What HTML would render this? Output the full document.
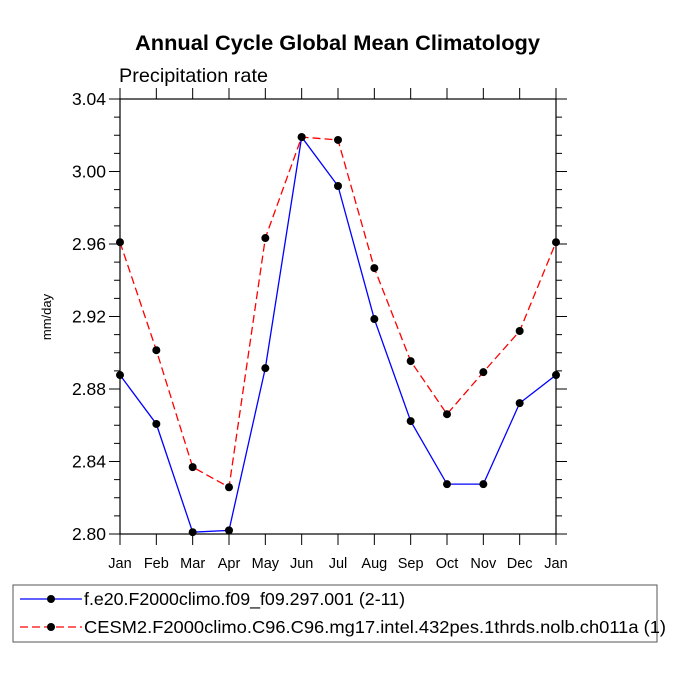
<!DOCTYPE html>
<html><head><meta charset="utf-8"><style>
body{margin:0;background:#fff;font-family:"Liberation Sans",sans-serif}
</style></head><body>
<svg width="675" height="675" viewBox="0 0 675 675" id="svg" font-family="Liberation Sans, sans-serif">
<text x="135" y="50" font-size="21.5" font-weight="bold" textLength="405" lengthAdjust="spacingAndGlyphs">Annual Cycle Global Mean Climatology</text>
<text x="119" y="82" font-size="19.5" textLength="149" lengthAdjust="spacingAndGlyphs">Precipitation rate</text>
<text transform="translate(51,317) rotate(-90)" text-anchor="middle" font-size="13">mm/day</text>
<rect x="120" y="99" width="436" height="435" fill="none" stroke="#000" stroke-width="1.2"/>
<g id="axes"></g>
<g id="series"></g>
<rect x="13" y="585" width="644" height="57" fill="none" stroke="#555" stroke-width="1"/>
<g>
<line x1="20" y1="599" x2="82" y2="599" stroke="#00f" stroke-width="1.3"/>
<circle cx="51" cy="599" r="4" fill="#000"/>
<text x="84" y="605" font-size="17.5" textLength="321" lengthAdjust="spacingAndGlyphs">f.e20.F2000climo.f09_f09.297.001 (2-11)</text>
</g>
<g>
<line x1="20" y1="627" x2="82" y2="627" stroke="#f00" stroke-width="1.3" stroke-dasharray="8,4"/>
<circle cx="51" cy="627" r="4" fill="#000"/>
<text x="84" y="633" font-size="17.5" textLength="582" lengthAdjust="spacingAndGlyphs">CESM2.F2000climo.C96.C96.mg17.intel.432pes.1thrds.nolb.ch011a (1)</text>
</g>
</svg>
<script>
const months=["Jan","Feb","Mar","Apr","May","Jun","Jul","Aug","Sep","Oct","Nov","Dec","Jan"];
const blueValues=[2.8877,2.8607,2.801,2.802,2.8915,3.019,2.992,2.9186,2.8623,2.8275,2.8275,2.8722,2.8877];
const redValues=[2.961,2.9014,2.8369,2.8258,2.9633,3.019,3.0174,2.9467,2.8954,2.8661,2.8893,2.912,2.961];
const yTicks=["2.80","2.84","2.88","2.92","2.96","3.00","3.04"];
const NS="http://www.w3.org/2000/svg";
const X0=120,X1=556,Y0=534,Y1=99,YMIN=2.80,YMAX=3.04;
const xs=i=>X0+(X1-X0)*i/(months.length-1);
const ys=v=>Y0-(v-YMIN)/(YMAX-YMIN)*(Y0-Y1);
function mk(tag,attrs,parent){const e=document.createElementNS(NS,tag);for(const k in attrs)e.setAttribute(k,attrs[k]);parent.appendChild(e);return e;}
const ax=document.getElementById('axes');
months.forEach((m,i)=>{
  const x=xs(i);
  const t1=mk('line',{x1:x,y1:Y0,x2:x,y2:Y0+11,stroke:'#000'},ax);
  
  
  const t2=mk('line',{x1:x,y1:Y1,x2:x,y2:Y1-11,stroke:'#000'},ax);
  
  
  const lb=mk('text',{x:x,y:Y0+34,'text-anchor':'middle','font-size':'14.5'},ax);
  lb.textContent=m;
  
  
});
const nMaj=yTicks.length-1;
for(let j=0;j<=nMaj*4;j++){
  const v=YMIN+(YMAX-YMIN)*j/(nMaj*4);const y=ys(v);const maj=j%4===0;const L=maj?11:6;
  const a=mk('line',{x1:X0,y1:y,x2:X0-L,y2:y,stroke:'#000'},ax);
  
  
  const b=mk('line',{x1:X1,y1:y,x2:X1+L,y2:y,stroke:'#000'},ax);
  
  
  if(maj){
    const lb=mk('text',{x:X0-14,y:y+6,'text-anchor':'end','font-size':'17.5'},ax);
    lb.textContent=yTicks[j/4];
    
    
  }
}
const sg=document.getElementById('series');
function series(vals,color,dash,name){
  const pts=vals.map((v,i)=>xs(i)+','+ys(v)).join(' ');
  const pl=mk('polyline',{points:pts,fill:'none',stroke:color,'stroke-width':1.3},sg);
  if(dash)pl.setAttribute('stroke-dasharray',dash);
  
  
  vals.forEach((v,i)=>{
    const c=mk('circle',{cx:xs(i),cy:ys(v),r:4,fill:'#000'},sg);
    
    
  });
}
series(redValues,'#f00','8,4','red-series');
series(blueValues,'#00f',null,'blue-series');
</script>
</body></html>
